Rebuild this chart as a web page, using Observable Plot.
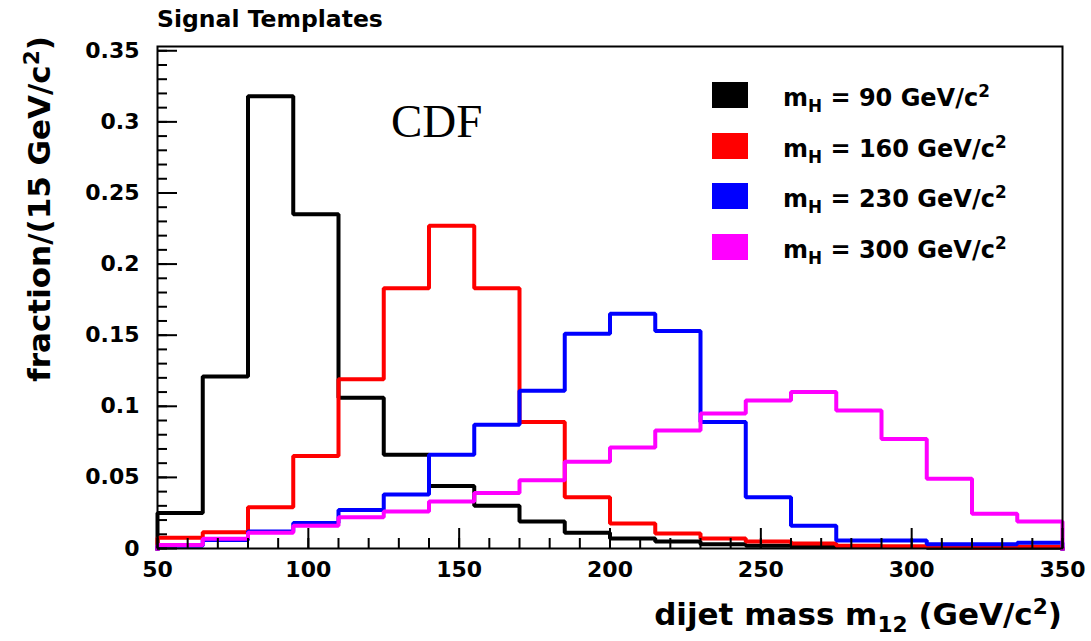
<!DOCTYPE html>
<html><head><meta charset="utf-8">
<script src="https://cdn.jsdelivr.net/npm/d3@7"></script>
<script src="https://cdn.jsdelivr.net/npm/@observablehq/plot@0.6"></script>
<style>
body{margin:0;background:#fff;}
#wrap{position:relative;width:1091px;height:641px;font-family:"DejaVu Sans",sans-serif;font-weight:bold;color:#000;}
.ov{position:absolute;white-space:nowrap;line-height:1;}
.ov sub,.ov sup{font-size:70%;line-height:0;}
.box{position:absolute;width:36px;height:26px;}
</style></head><body><div id="wrap"></div>
<script>
// ---- data ----
const binStart = [50,65,80,95,110,125,140,155,170,185,200,215,230,245,260,275,290,305,320,335];
const binWidth = 15;
const mH90  = [0.025,0.121,0.318,0.235,0.106,0.066,0.044,0.030,0.019,0.011,0.007,0.005,0.003,0.002,0.0015,0.001,0.001,0.0005,0.0005,0.0005];
const mH160 = [0.0075,0.0115,0.029,0.065,0.119,0.183,0.227,0.183,0.089,0.036,0.0175,0.0105,0.007,0.005,0.0035,0.002,0.0015,0.001,0.0007,0.0012];
const mH230 = [0.002,0.006,0.012,0.018,0.027,0.038,0.066,0.087,0.111,0.151,0.165,0.153,0.089,0.036,0.016,0.0056,0.0056,0.003,0.003,0.004];
const mH300 = [0.0025,0.0068,0.011,0.016,0.022,0.026,0.033,0.039,0.048,0.061,0.071,0.083,0.095,0.104,0.110,0.097,0.077,0.049,0.0245,0.019];
const seriesValues = [mH90, mH160, mH230, mH300];
const seriesMass = ["90","160","230","300"];
const seriesColors = ["#000000","#ff0000","#0000ff","#ff00ff"];
const yTicks = [0,0.05,0.1,0.15,0.2,0.25,0.3,0.35];
const yTickLabels = ["0","0.05","0.1","0.15","0.2","0.25","0.3","0.35"];
const xTicks = [50,100,150,200,250,300,350];
const xTickLabels = ["50","100","150","200","250","300","350"];
const xMinorStep = 10, yMinorStep = 0.01;

// ---- layout ----
const W = 1091, H = 641, mL = 157, mR = 29, mT = 46, mB = 93;
const fw = W - mL - mR, fh = H - mT - mB;
const xMin = binStart[0], xMax = binStart[binStart.length-1] + binWidth;

function steps(vals){
  const pts = [{x: xMin, y: 0}];
  vals.forEach((v,i) => pts.push({x: binStart[i], y: v}));
  pts.push({x: xMax, y: vals[vals.length-1]});
  pts.push({x: xMax, y: 0});
  return pts;
}
const xMinor = d3.range(xMin, xMax + 1e-9, xMinorStep);
const yMinor = d3.range(0, 0.3501, yMinorStep).map(v => +v.toFixed(3));

const lineMarks = seriesValues.map((vals, k) =>
  Plot.line(steps(vals), {x: "x", y: "y", curve: "step-after", stroke: seriesColors[k],
    strokeWidth: 4, strokeLinejoin: "miter", strokeLinecap: "square"}));

const chart = Plot.plot({
  width: W, height: H, marginLeft: mL, marginRight: mR, marginTop: mT, marginBottom: mB,
  style: {fontFamily: "DejaVu Sans", background: "#fff"},
  x: {domain: [xMin, xMax]},
  y: {domain: [0, 0.353]},
  marks: [
    ...lineMarks,
    Plot.ruleY(yMinor, {y: d => d, insetRight: fw - 10, stroke: "#000", strokeWidth: 2}),
    Plot.ruleY(yTicks, {y: d => d, insetRight: fw - 20, stroke: "#000", strokeWidth: 2}),
    Plot.ruleX(xMinor, {x: d => d, insetTop: fh - 10, stroke: "#000", strokeWidth: 2}),
    Plot.ruleX(xTicks, {x: d => d, insetTop: fh - 20, stroke: "#000", strokeWidth: 2}),
    Plot.axisY({ticks: yTicks, tickSize: 0, tickPadding: 18, label: null,
      tickFormat: d => yTickLabels[yTicks.indexOf(d)], fontSize: 22, fontWeight: "bold", fill: "#000"}),
    Plot.axisX({ticks: xTicks, tickSize: 0, tickPadding: 13, label: null,
      tickFormat: d => xTickLabels[xTicks.indexOf(d)], fontSize: 22, fontWeight: "bold", fill: "#000"}),
    Plot.frame({stroke: "#000", strokeWidth: 2})
  ]
});
const wrap = document.getElementById("wrap");
wrap.appendChild(chart);

function ov(html, css){
  const d = document.createElement("div");
  d.className = "ov"; d.innerHTML = html; d.style.cssText += css;
  wrap.appendChild(d); return d;
}
ov("Signal Templates", "left:157px;top:8px;font-size:23.5px;");
ov("CDF", "left:391px;top:98px;font-size:47px;font-family:'Liberation Serif',serif;font-weight:normal;");
ov("dijet mass m<sub>12</sub> (GeV/c<sup>2</sup>)", "right:29px;top:599px;font-size:31px;");
ov("fraction/(15 GeV/c<sup>2</sup>)", "left:24px;top:36px;font-size:31px;transform-origin:0 0;transform:rotate(-90deg) translateX(-100%);");

seriesMass.forEach((m, k) => {
  const cy = 95 + k * 50.5;
  const b = document.createElement("div");
  b.className = "box";
  b.style.cssText += `left:712px;top:${cy-13}px;background:${seriesColors[k]};`;
  wrap.appendChild(b);
  ov(`m<sub>H</sub> = ${m} GeV/c<sup>2</sup>`, `left:783px;top:${cy-9}px;font-size:24px;`);
});
</script></body></html>
